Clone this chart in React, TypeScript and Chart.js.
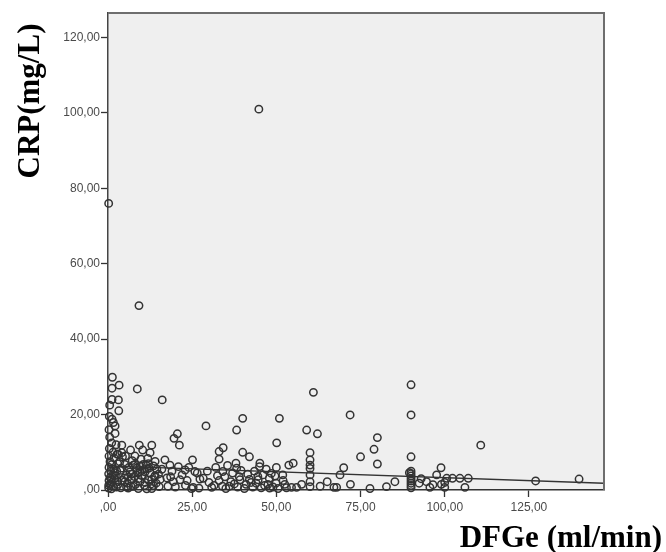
import React, { useEffect, useRef } from "react";
import { Chart, registerables } from "chart.js";

Chart.register(...registerables);

// DFGe (ml/min) values, x of each observation
const dfge = [
  0.2, 1.3, 1.2, 1.2, 0.5, 1.2, 1.6, 2.1, 2.1, 0.5, 1.1, 0.4, 1.5, 0.3, 1.8, 0.6, 1.2, 0.3, 1.7, 0.8,
  0.2, 1.4, 0.6, 1.9, 0.3, 1.1, 0.5, 1.6, 0.2, 1.0, 2.5, 2.8, 2.6, 2.9, 0.3, 0.4, 2.4, 2.7, 0.2, 2.2,
  3.3, 8.7, 3.1, 3.2, 9.2, 16.1, 4.1, 6.7, 9.3, 10.3, 13.0, 12.5, 4.1, 4.3, 3.5, 5.0, 6.2, 7.5, 8.5, 9.5,
  10.5, 11.3, 12.2, 13.5, 14.5, 5.5, 6.5, 7.8, 8.8, 10.0, 11.0, 12.5, 13.8, 15.0, 4.2, 5.8, 7.0, 8.2, 9.5, 10.8,
  12.0, 13.0, 14.3, 3.8, 6.0, 9.0, 11.5, 15.5, 16.0, 3.6, 4.8, 7.2, 8.0, 9.8, 11.8, 14.0, 5.2, 6.8, 12.8, 15.2,
  1.0, 2.0, 3.0, 4.0, 5.0, 6.0, 7.0, 8.0, 9.0, 10.0, 11.0, 12.0, 13.0, 14.0, 3.0, 5.5, 7.5, 9.5, 11.5, 13.5,
  16.9, 18.4, 20.9, 22.9, 20.6, 19.6, 21.2, 18.6, 19.4, 21.4, 20.0, 22.0, 23.5, 24.8, 25.1, 25.8, 27.3, 28.3, 29.1, 25.3,
  30.8, 26.5, 29.5, 30.0, 17.5, 17.8, 23.0, 27.0, 24.0, 19.0,
  32.0, 33.0, 33.0, 34.2, 34.1, 34.7, 33.0, 38.0, 38.2, 40.0, 40.0, 42.0, 38.2, 39.0, 39.2, 42.0, 44.6, 45.1, 45.0, 47.9,
  49.6, 49.9, 50.0, 50.1, 50.9, 53.7, 44.8, 36.0, 41.0, 43.0, 46.5, 48.0, 51.9, 52.5, 35.5, 37.0, 43.5, 46.0, 47.0, 31.5,
  35.0, 38.5, 40.5, 44.0, 45.5, 49.0, 50.5, 41.5, 36.5,
  32.5, 37.5, 42.5, 47.5, 52.0, 34.0, 39.5, 44.5, 48.5, 53.0,
  55.0, 56.0, 54.5, 59.0, 61.0, 62.2, 60.0, 60.0, 60.0, 60.0, 60.0, 60.0, 60.0, 65.1, 67.1, 67.9, 68.9, 70.0, 71.9, 75.0,
  77.8, 79.0, 80.0, 80.0, 82.7, 85.2, 57.5, 63.0, 72.0,
  90.0, 90.0, 90.0, 90.0, 90.0, 90.0, 90.0, 90.0, 90.0, 90.0, 90.0, 92.4, 94.6, 95.6, 97.6, 98.9, 100.0, 100.6, 102.3, 104.5,
  106.0, 107.0, 110.7, 127.0, 139.9, 100.0, 99.0, 93.0, 89.5, 96.5,
];

// CRP (mg/L) values, y of each observation
const crp = [
  76.0, 29.9, 27.0, 24.0, 22.5, 18.8, 17.9, 17.0, 15.0, 14.0, 12.5, 11.0, 10.0, 9.0, 8.5, 7.5, 6.8, 6.0, 5.5, 5.0,
  4.3, 4.0, 3.3, 3.0, 2.5, 2.0, 1.5, 1.0, 0.5, 0.3, 0.8, 2.2, 5.0, 7.0, 16.0, 19.5, 12.0, 9.5, 1.2, 3.8,
  27.8, 26.8, 23.9, 21.0, 48.9, 23.9, 11.9, 10.6, 11.9, 10.6, 11.9, 9.9, 9.9, 8.8, 7.5, 6.8, 6.0, 6.6, 5.8, 6.3,
  6.8, 6.6, 5.8, 6.4, 5.5, 4.0, 4.8, 3.6, 4.5, 3.8, 4.8, 4.5, 3.5, 4.2, 2.5, 1.8, 2.8, 1.5, 2.2, 1.2,
  2.6, 0.4, 1.8, 0.6, 0.5, 0.4, 0.3, 2.8, 5.5, 5.2, 3.2, 7.8, 9.0, 8.2, 8.4, 7.6, 9.0, 1.0, 1.6, 0.9,
  2.8, 4.6, 1.5, 5.8, 2.2, 3.4, 4.2, 6.8, 3.0, 5.2, 2.0, 7.0, 2.8, 3.8, 9.5, 0.8, 1.0, 4.8, 5.6, 1.2,
  8.0, 6.6, 6.2, 5.3, 14.9, 13.7, 11.9, 3.5, 2.2, 2.7, 0.8, 4.0, 2.5, 0.4, 8.0, 4.9, 2.9, 3.1, 17.0, 0.7,
  0.7, 4.5, 5.0, 2.0, 3.2, 1.0, 1.2, 0.5, 6.0, 5.0,
  6.0, 8.2, 10.2, 11.2, 4.9, 3.5, 2.5, 7.1, 15.9, 19.0, 10.0, 8.8, 5.8, 3.5, 2.7, 2.8, 2.7, 7.1, 6.2, 3.1,
  3.7, 1.8, 6.0, 12.5, 19.0, 6.6, 101.0, 1.0, 1.5, 0.8, 1.2, 0.5, 4.0, 1.5, 6.5, 4.5, 5.0, 4.0, 5.5, 1.2,
  0.4, 0.8, 0.4, 1.8, 0.6, 0.8, 0.4, 4.2, 2.2,
  3.8, 1.6, 2.0, 1.5, 2.5, 1.0, 5.2, 3.6, 4.4, 0.6,
  7.1, 0.7, 0.7, 15.9, 25.9, 14.9, 9.9, 8.0, 6.6, 5.7, 4.0, 2.2, 0.9, 2.2, 0.7, 0.7, 4.0, 5.9, 19.9, 8.8,
  0.4, 10.8, 13.9, 6.9, 0.9, 2.2, 1.5, 1.0, 1.5,
  27.9, 19.9, 8.8, 5.0, 4.3, 3.7, 3.0, 2.4, 1.8, 1.2, 0.6, 1.8, 2.2, 0.7, 4.0, 5.9, 0.7, 3.1, 3.1, 3.1,
  0.7, 3.1, 11.9, 2.4, 2.9, 2.0, 1.5, 3.0, 4.6, 1.4,
];

// Linear fit line end points
const fitDfge = [0, 147.3];
const fitCrp = [6.4, 1.8];

const xTicks = [0, 25, 50, 75, 100, 125];
const yTicks = [0, 20, 40, 60, 80, 100, 120];
const xMax = 147.3;
const yMax = 126.5;
const xTitle = "DFGe (ml/min)";
const yTitle = "CRP(mg/L)";

const fmt = (v: number) => (v === 0 ? ",00" : Number(v).toFixed(2).replace(".", ","));

export default function App() {
  const ref = useRef<HTMLCanvasElement>(null);

  useEffect(() => {
    if (!ref.current) return;
    const framePlugin = {
      id: "spssFrame",
      beforeDraw(chart: any) {
        const { ctx, chartArea: a } = chart;
        ctx.save();
        ctx.fillStyle = "#efefef";
        ctx.fillRect(a.left, a.top, a.right - a.left, a.bottom - a.top);
        ctx.restore();
      },
      afterDraw(chart: any) {
        const { ctx, chartArea: a } = chart;
        ctx.save();
        ctx.strokeStyle = "#6e6e6e";
        ctx.lineWidth = 2;
        ctx.beginPath();
        ctx.moveTo(a.left, a.top);
        ctx.lineTo(a.right, a.top);
        ctx.lineTo(a.right, a.bottom);
        ctx.stroke();
        ctx.fillStyle = "#000";
        ctx.font = 'bold 31px "Liberation Serif", "Times New Roman", serif';
        ctx.textAlign = "right";
        ctx.textBaseline = "alphabetic";
        ctx.fillText(xTitle, 662, 547);
        ctx.translate(39, 101);
        ctx.rotate(-Math.PI / 2);
        ctx.textAlign = "center";
        ctx.fillText(yTitle, 0, 0);
        ctx.restore();
      },
    };

    const tickFont = { family: '"Liberation Sans", Arial, sans-serif', size: 12 };

    const chart = new Chart(ref.current, {
      type: "scatter",
      data: {
        datasets: [
          {
            label: "CRP",
            data: dfge.map((x, i) => ({ x, y: crp[i] })),
            pointStyle: "circle",
            pointRadius: 3.7,
            pointBorderWidth: 1.5,
            pointBorderColor: "#333",
            pointBackgroundColor: "rgba(0,0,0,0)",
            clip: false as any,
          },
          {
            label: "Fit",
            data: fitDfge.map((x, i) => ({ x, y: fitCrp[i] })),
            showLine: true,
            borderColor: "#333",
            borderWidth: 1.4,
            pointRadius: 0,
          } as any,
        ],
      },
      options: {
        animation: false,
        responsive: false,
        events: [],
        layout: { padding: { left: 0, right: 62, top: 13, bottom: 0 } },
        plugins: { legend: { display: false }, tooltip: { enabled: false } },
        scales: {
          x: {
            type: "linear",
            min: 0,
            max: xMax,
            afterFit: (s: any) => {
              s.height = 62;
            },
            afterBuildTicks: (s: any) => {
              s.ticks = xTicks.map((v) => ({ value: v }));
            },
            grid: { drawOnChartArea: false, drawTicks: true, tickLength: 7, tickColor: "#333", tickWidth: 1.3 },
            border: { display: true, color: "#333", width: 1.5 },
            ticks: {
              callback: (v: any) => fmt(v),
              font: tickFont,
              color: "#4a4a4a",
              padding: 3,
              maxRotation: 0,
              autoSkip: false,
            },
          },
          y: {
            type: "linear",
            min: 0,
            max: yMax,
            afterFit: (s: any) => {
              s.width = 108;
            },
            afterBuildTicks: (s: any) => {
              s.ticks = yTicks.map((v) => ({ value: v }));
            },
            grid: { drawOnChartArea: false, drawTicks: true, tickLength: 7, tickColor: "#333", tickWidth: 1.3 },
            border: { display: true, color: "#444", width: 1.5 },
            ticks: {
              callback: (v: any) => fmt(v),
              font: tickFont,
              color: "#4a4a4a",
              padding: 1,
              autoSkip: false,
            },
          },
        },
      } as any,
      plugins: [framePlugin],
    });
    return () => chart.destroy();
  }, []);

  return (
    <div style={{ position: "absolute", left: 0, top: 0, width: 666, height: 552, background: "#fff" }}>
      <canvas ref={ref} width={666} height={552} style={{ display: "block", width: 666, height: 552 }} />
    </div>
  );
}
